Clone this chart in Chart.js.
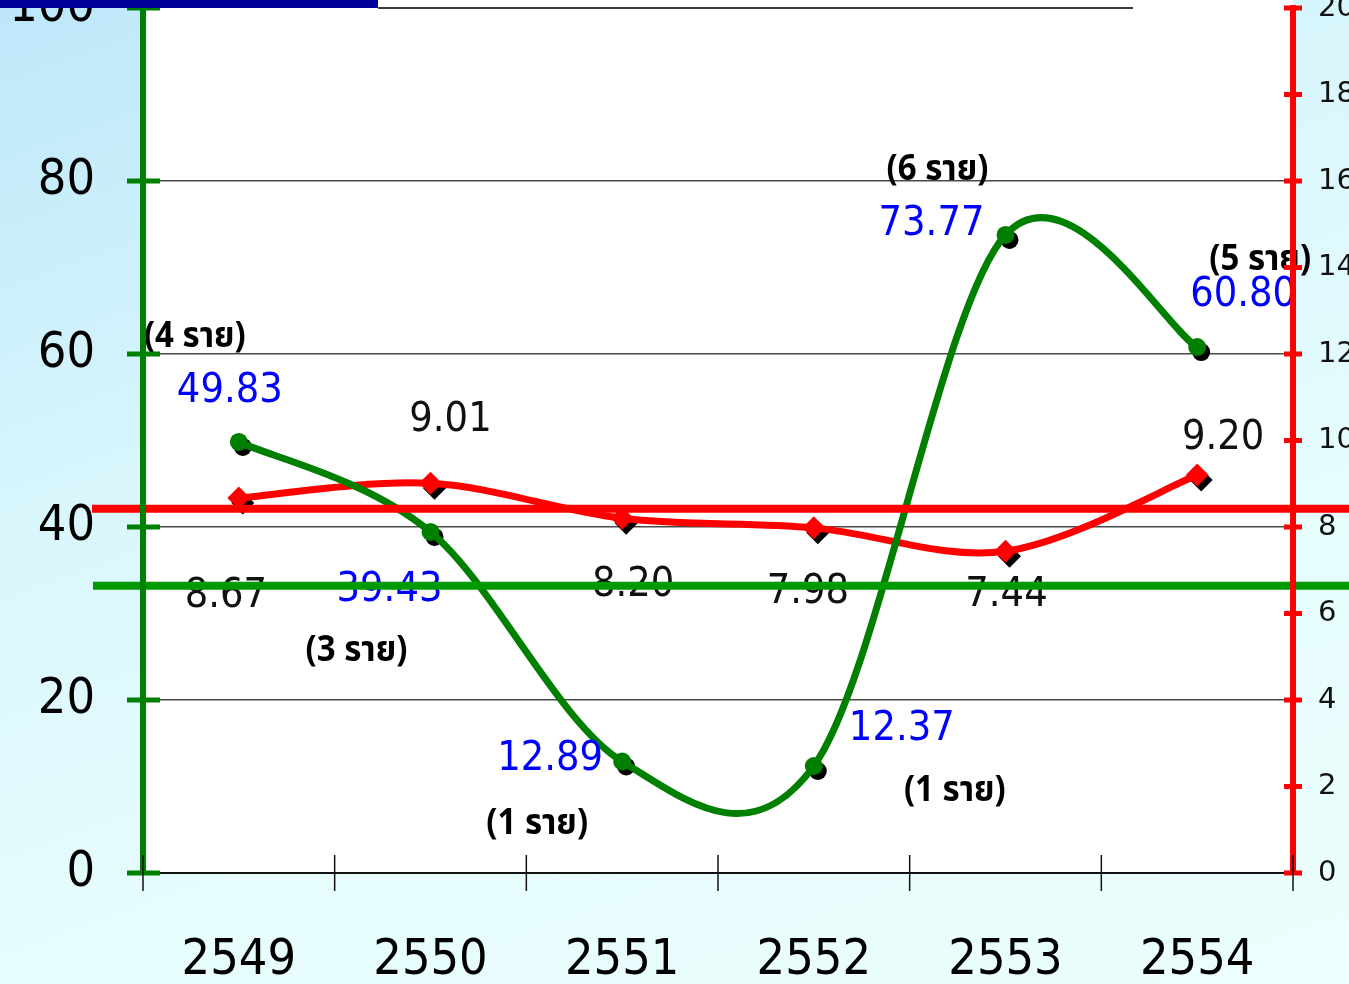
<!DOCTYPE html>
<html>
<head>
<meta charset="utf-8">
<script src="https://cdn.jsdelivr.net/npm/chart.js@4/dist/chart.umd.min.js"></script>
<style>
  html, body { margin: 0; padding: 0; }
  body {
    width: 1349px; height: 984px; overflow: hidden; position: relative;
    background: linear-gradient(160deg, #bde7fa 0%, #d8f6fc 35%, #e6fcfd 65%, #ecfefe 100%);
  }
  #wrap { position: absolute; left: 0; top: -72px; width: 1400px; height: 1072px; }
  #bar { position: absolute; left: 0; top: 0; width: 378px; height: 8px; background: #000099; z-index: 2; }
  #rule { position: absolute; left: 378px; top: 7px; width: 755px; height: 2px; background: #3a3a3a; z-index: 2; }
</style>
</head>
<body>
<div id="wrap"><canvas id="c" width="1400" height="1072"></canvas></div>
<div id="bar"></div>
<div id="rule"></div>
<script>
// Years (Thai Buddhist era)
const years = ['2549', '2550', '2551', '2552', '2553', '2554'];
// Green series, read on the left axis (0-100)
const greenRates = [49.83, 39.43, 12.89, 12.37, 73.77, 60.80];
// Red series, read on the right axis (0-20)
const redRates = [8.67, 9.01, 8.20, 7.98, 7.44, 9.20];
// Number of cases shown next to each green point
const caseCounts = [4, 3, 1, 1, 6, 5];
// Axis ranges
const leftMax = 100, leftStep = 20;
const rightMax = 20, rightStep = 2;
// Horizontal reference levels
const redRefLevel = 8.42;   // right axis
const greenRefLevel = 33.2; // left axis

// Label placement (pixel offsets from each point)
const greenLabelOffsets = [[-9, -51], [-41, 58], [-72, -2], [88, -37], [-74, -10], [46, -52]];
const redLabelOffsets = [[-13, 98], [20, -63], [11, 67], [-6, 65], [1, 44], [26, -37]];
const countLabelOffsets = [[-44, -102], [-74, 122], [-85, 65], [141, 28], [-68, -62], [63, -84]];

const NUM_FONT = '"DejaVu Sans", Verdana, sans-serif';
const AXIS_FONT = '"DejaVu Sans Condensed", "DejaVu Sans", sans-serif';
const THAI_FONT = '"Noto Sans Thai", "Noto Sans", Tahoma, sans-serif';

// White plot background (runs up to the top edge)
const plotBackground = {
  id: 'plotBackground',
  beforeDraw(chart) {
    const { ctx, chartArea: a } = chart;
    ctx.save();
    ctx.fillStyle = '#ffffff';
    ctx.fillRect(a.left, a.top - 8, a.right - a.left, a.bottom - a.top + 8);
    ctx.restore();
  }
};

// Uniform Catmull-Rom style smoothing through the points
const smoothCurves = {
  id: 'smoothCurves',
  beforeDatasetDraw(chart, args) {
    const meta = args.meta;
    const line = meta.dataset;
    const pts = meta.data;
    if (line.updateControlPoints) line.updateControlPoints(chart.chartArea);
    const n = pts.length;
    for (let i = 0; i < n; i++) {
      const p0 = pts[Math.max(i - 1, 0)], p1 = pts[i], p2 = pts[Math.min(i + 1, n - 1)];
      const dx = (p2.x - p0.x) / 6, dy = (p2.y - p0.y) / 6;
      p1.cp1x = p1.x - dx; p1.cp1y = p1.y - dy;
      p1.cp2x = p1.x + dx; p1.cp2y = p1.y + dy;
    }
    line._path = undefined;
  }
};

// Black drop shadows under the markers
const markerShadows = {
  id: 'markerShadows',
  beforeDatasetsDraw(chart) {
    const ctx = chart.ctx;
    ctx.save();
    ctx.fillStyle = '#000000';
    chart.data.datasets.forEach((ds, di) => {
      const meta = chart.getDatasetMeta(di);
      meta.data.forEach(pt => {
        const x = pt.x + 4, y = pt.y + 5;
        const r = ds.pointRadius;
        ctx.beginPath();
        if (ds.pointStyle === 'rectRot') {
          ctx.moveTo(x - r, y); ctx.lineTo(x, y - r); ctx.lineTo(x + r, y); ctx.lineTo(x, y + r);
          ctx.closePath();
        } else {
          ctx.arc(x, y, r, 0, Math.PI * 2);
        }
        ctx.fill();
      });
    });
    ctx.restore();
  }
};

// Text drawn slightly taller than wide
function tallText(ctx, text, x, y, sy) {
  ctx.save();
  ctx.translate(x, y);
  ctx.scale(1, sy);
  ctx.fillText(text, 0, 0);
  ctx.restore();
}

// Value labels, case counts and the two reference lines
const annotations = {
  id: 'annotations',
  afterDatasetsDraw(chart) {
    const ctx = chart.ctx;
    const g = chart.getDatasetMeta(0).data;
    const r = chart.getDatasetMeta(1).data;
    ctx.save();
    ctx.textAlign = 'center';
    ctx.textBaseline = 'middle';

    ctx.font = '37px ' + NUM_FONT;
    ctx.fillStyle = '#0000ff';
    greenRates.forEach((v, i) => {
      const o = greenLabelOffsets[i];
      tallText(ctx, v.toFixed(2), g[i].x + o[0], g[i].y + o[1], 1.1);
    });
    ctx.fillStyle = '#111111';
    redRates.forEach((v, i) => {
      const o = redLabelOffsets[i];
      tallText(ctx, v.toFixed(2), r[i].x + o[0], r[i].y + o[1], 1.1);
    });

    ctx.font = 'bold 33px ' + THAI_FONT;
    ctx.fillStyle = '#000000';
    caseCounts.forEach((c, i) => {
      const o = countLabelOffsets[i];
      tallText(ctx, '(' + c + ' ราย)', g[i].x + o[0], g[i].y + o[1], 1.1);
    });

    const a = chart.chartArea;
    const yR = chart.scales.yR.getPixelForValue(redRefLevel);
    const yG = chart.scales.yL.getPixelForValue(greenRefLevel);
    ctx.lineWidth = 8;
    ctx.strokeStyle = '#ff0000';
    ctx.beginPath(); ctx.moveTo(a.left - 51, yR); ctx.lineTo(chart.width, yR); ctx.stroke();
    ctx.strokeStyle = '#009900';
    ctx.beginPath(); ctx.moveTo(a.left - 50, yG); ctx.lineTo(chart.width, yG); ctx.stroke();
    ctx.restore();
  }
};

// Tick marks crossing the axis lines
const crossTicks = {
  id: 'crossTicks',
  afterDraw(chart) {
    const ctx = chart.ctx;
    const { yL, yR, x } = chart.scales;
    const a = chart.chartArea;
    ctx.save();
    ctx.lineWidth = 5;
    ctx.strokeStyle = '#008000';
    yL.ticks.forEach(t => {
      const y = yL.getPixelForValue(t.value);
      ctx.beginPath(); ctx.moveTo(a.left - 16, y); ctx.lineTo(a.left + 17, y); ctx.stroke();
    });
    ctx.strokeStyle = '#ff0000';
    yR.ticks.forEach(t => {
      const y = yR.getPixelForValue(t.value);
      ctx.beginPath(); ctx.moveTo(a.right - 9, y); ctx.lineTo(a.right + 9, y); ctx.stroke();
    });
    ctx.lineWidth = 1.5;
    ctx.strokeStyle = '#111111';
    for (let i = 0; i <= years.length; i++) {
      const px = x.getPixelForValue(i - 0.5);
      ctx.beginPath(); ctx.moveTo(px, a.bottom - 18); ctx.lineTo(px, a.bottom + 18); ctx.stroke();
    }
    ctx.restore();
  }
};

new Chart(document.getElementById('c').getContext('2d'), {
  type: 'line',
  data: {
    labels: years,
    datasets: [
      {
        data: greenRates, yAxisID: 'yL',
        borderColor: '#007f00', borderWidth: 7, tension: 0.4,
        pointRadius: 9, pointStyle: 'circle',
        pointBackgroundColor: '#007f00', pointBorderWidth: 0
      },
      {
        data: redRates, yAxisID: 'yR',
        borderColor: '#ff0000', borderWidth: 7, tension: 0.4,
        pointRadius: 11.5, pointStyle: 'rectRot',
        pointBackgroundColor: '#ff0000', pointBorderWidth: 0
      }
    ]
  },
  options: {
    responsive: false,
    animation: false,
    events: [],
    layout: { padding: { top: 80, left: 0, right: 0, bottom: 0 } },
    plugins: { legend: { display: false }, tooltip: { enabled: false } },
    scales: {
      x: {
        offset: true,
        grid: { display: false },
        border: { display: true, color: '#111111', width: 2 },
        ticks: { padding: 50, color: '#000000', maxRotation: 0, autoSkip: false,
                 font: { family: AXIS_FONT, size: 50 } },
        afterFit(s) { s.height = 127; }
      },
      yL: {
        position: 'left', min: 0, max: leftMax,
        ticks: { stepSize: leftStep, padding: 48, color: '#000000',
                 font: { family: AXIS_FONT, size: 50 } },
        grid: {
          drawTicks: false, lineWidth: 1.5,
          color: c => (c.tick && (c.tick.value === 0 || c.tick.value === leftMax)) ? 'rgba(0,0,0,0)' : '#4a4a4a'
        },
        border: { color: '#008000', width: 6, z: 1 },
        afterFit(s) { s.width = 143; }
      },
      yR: {
        position: 'right', min: 0, max: rightMax,
        ticks: { stepSize: rightStep, padding: 25, color: '#111111',
                 font: { family: NUM_FONT, size: 29 } },
        grid: { display: false, drawTicks: false },
        border: { color: '#ff0000', width: 6, z: 1 },
        afterFit(s) { s.width = 107; }
      }
    }
  },
  plugins: [plotBackground, smoothCurves, markerShadows, annotations, crossTicks]
});
</script>
</body>
</html>
